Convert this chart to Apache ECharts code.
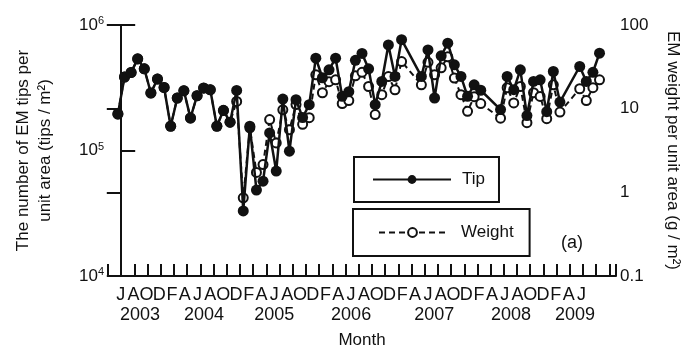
<!DOCTYPE html>
<html>
<head>
<meta charset="utf-8">
<script src="https://cdn.jsdelivr.net/npm/echarts/dist/echarts.min.js"></script>
<style>
html, body { margin: 0; padding: 0; background: #fff; }
#main { width: 689px; height: 354px; }
</style>
</head>
<body>
<div id="main"></div>
<script>
// sampling months (Jan/Feb missing in the last three winters)
var months = [
  '2003-05','2003-06','2003-07','2003-08','2003-09','2003-10','2003-11','2003-12',
  '2004-01','2004-02','2004-03','2004-04','2004-05','2004-06','2004-07','2004-08','2004-09','2004-10','2004-11','2004-12',
  '2005-01','2005-02','2005-03','2005-04','2005-05','2005-06','2005-07','2005-08','2005-09','2005-10','2005-11','2005-12',
  '2006-01','2006-02','2006-03','2006-04','2006-05','2006-06','2006-07','2006-08','2006-09','2006-10','2006-11','2006-12',
  '2007-03','2007-04','2007-05','2007-06','2007-07','2007-08','2007-09','2007-10','2007-11','2007-12',
  '2008-03','2008-04','2008-05','2008-06','2008-07','2008-08','2008-09','2008-10','2008-11','2008-12',
  '2009-03','2009-04','2009-05','2009-06'
];
// EM tips per m2
var tips = [
  195000, 385000, 418000, 537000, 448000, 287000, 371000, 318000,
  156000, 262000, 299000, 182000, 273000, 315000, 305000, 156000, 209000, 168000, 301000, 33000,
  156000, 48400, 57000, 138000, 68500, 257000, 98700, 254000, 183000, 232000, 544000, 380000,
  439000, 544000, 270000, 294000, 523000, 594000, 448000, 232000, 355000, 694000, 389000, 764000,
  389000, 633000, 262000, 568000, 716000, 482000, 389000, 270000, 334000, 302000,
  212000, 389000, 305000, 439000, 190000, 355000, 366000, 204000, 426000, 243000,
  467000, 355000, 420000, 596000
];
// EM weight, g per m2
var weights = [
  8.65, 23.9, 27.1, 39.4, 29.9, 15.4, 22.6, 17.9,
  6.2, 13.4, 16.4, 7.7, 14.3, 17.6, 16.8, 6.2, 9.5, 6.9, 12.2, 0.86,
  5.9, 1.73, 2.15, 7.4, 3.9, 9.7, 5.6, 11.2, 6.5, 7.8, 25.4, 15.5,
  21.0, 22.1, 11.5, 12.5, 24.7, 27.2, 18.4, 8.5, 14.7, 24.2, 16.8, 36.6,
  19.3, 35.8, 25.4, 30.8, 41.6, 23.2, 14.7, 9.3, 13.9, 11.5,
  7.7, 17.8, 11.7, 18.4, 6.8, 15.5, 14.0, 7.6, 19.3, 9.1,
  17.3, 12.5, 17.8, 22.1
];
var monthLetters = 'JFMAMJJASOND';
var years = ['2003', '2004', '2005', '2006', '2007', '2008', '2009'];
var yearPos = [3, 13, 24, 36, 49, 61, 71];

var FONT = 'Liberation Sans';
var INK = '#111';

// months counted from June 2003, points at mid-month
function monthPos(s) {
  var p = s.split('-');
  return (+p[0] - 2003) * 12 + (+p[1] - 6) + 0.5;
}
var tipData = [], weightData = [];
for (var i = 0; i < months.length; i++) {
  tipData.push([monthPos(months[i]), tips[i]]);
  weightData.push([monthPos(months[i]), weights[i]]);
}

var myChart = echarts.init(document.getElementById('main'));
myChart.setOption({
  animation: false,
  textStyle: { fontFamily: FONT, color: INK },
  title: {
    text: '(a)',
    left: 556, top: 229,
    textStyle: { fontFamily: FONT, fontSize: 18, fontWeight: 'normal', color: INK }
  },
  legend: [{
    data: ['Tip'],
    left: 354, top: 157,
    padding: [14, 14, 14, 18],
    itemWidth: 78, itemHeight: 11,
    borderColor: INK, borderWidth: 2,
    textStyle: { fontFamily: FONT, fontSize: 17, color: INK, padding: [0, 0, 0, 6] }
  }, {
    data: ['Weight'],
    left: 353, top: 209,
    padding: [15, 16, 15, 25],
    itemWidth: 67, itemHeight: 11,
    borderColor: INK, borderWidth: 2,
    textStyle: { fontFamily: FONT, fontSize: 17, color: INK, padding: [0, 0, 0, 10] }
  }],
  grid: { left: 108, right: 68, top: 25, bottom: 77 },
  xAxis: [{
    // ticks + data scale
    type: 'value', min: -2, max: 75, interval: 2,
    position: 'bottom',
    axisLine: { lineStyle: { color: INK, width: 2 } },
    axisTick: { inside: true, length: 12, lineStyle: { color: INK, width: 2 } },
    axisLabel: { show: false },
    splitLine: { show: false },
    name: 'Month', nameLocation: 'middle', nameGap: 56,
    nameTextStyle: { fontFamily: FONT, fontSize: 17, color: INK }
  }, {
    // month letters
    type: 'value', min: -2, max: 77.4, interval: 2,
    position: 'bottom',
    axisLine: { show: false }, axisTick: { show: false }, splitLine: { show: false },
    axisLabel: {
      margin: 10, fontSize: 18, fontFamily: FONT, color: INK,
      formatter: function (v) {
        if (v < 0 || v > 72) return '';
        return monthLetters.charAt((v + 5) % 12);
      }
    }
  }, {
    // years
    type: 'value', min: -2, max: 77.4, interval: 1,
    position: 'bottom',
    axisLine: { show: false }, axisTick: { show: false }, splitLine: { show: false },
    axisLabel: {
      margin: 30, fontSize: 18, fontFamily: FONT, color: INK,
      formatter: function (v) {
        var k = yearPos.indexOf(v);
        return k < 0 ? '' : years[k];
      }
    }
  }],
  yAxis: [{
    type: 'log', logBase: 10, min: 1e4, max: 1e6,
    position: 'left',
    axisLine: { show: true, lineStyle: { color: INK, width: 2 } },
    axisTick: { inside: true, length: 14, lineStyle: { color: INK, width: 2 } },
    splitLine: { show: false },
    axisLabel: {
      margin: 4, fontSize: 17, fontFamily: FONT, color: INK,
      formatter: function (v) { return '10{sup|' + Math.round(Math.log10(v)) + '}'; },
      rich: { sup: { fontSize: 11, fontFamily: FONT, color: INK, verticalAlign: 'top', padding: [0, 0, 8, 0] } }
    },
    name: 'The number of EM tips per\nunit area (tips / m²)',
    nameLocation: 'middle', nameRotate: 90, nameGap: 52,
    nameTextStyle: { fontFamily: FONT, fontSize: 17, color: INK, lineHeight: 22 }
  }, {
    type: 'log', logBase: 10, min: 0.1, max: 100,
    position: 'right',
    axisLine: { show: true, lineStyle: { color: INK, width: 2 } },
    axisTick: { inside: true, length: 14, lineStyle: { color: INK, width: 2 } },
    splitLine: { show: false },
    axisLabel: { margin: 4, fontSize: 17, fontFamily: FONT, color: INK },
    name: 'EM weight per unit area (g / m²)',
    nameLocation: 'middle', nameRotate: -90, nameGap: 48,
    nameTextStyle: { fontFamily: FONT, fontSize: 17, color: INK }
  }],
  series: [{
    name: 'Weight',
    type: 'line',
    xAxisIndex: 0, yAxisIndex: 1,
    data: weightData,
    symbol: 'circle', symbolSize: 9,
    itemStyle: { color: '#fff', borderColor: INK, borderWidth: 2 },
    lineStyle: { color: INK, width: 2, type: [6, 4] },
    z: 2
  }, {
    name: 'Tip',
    type: 'line',
    xAxisIndex: 0, yAxisIndex: 0,
    data: tipData,
    symbol: 'circle', symbolSize: 11,
    itemStyle: { color: INK },
    lineStyle: { color: INK, width: 2.5 },
    z: 3
  }]
});
</script>
</body>
</html>
